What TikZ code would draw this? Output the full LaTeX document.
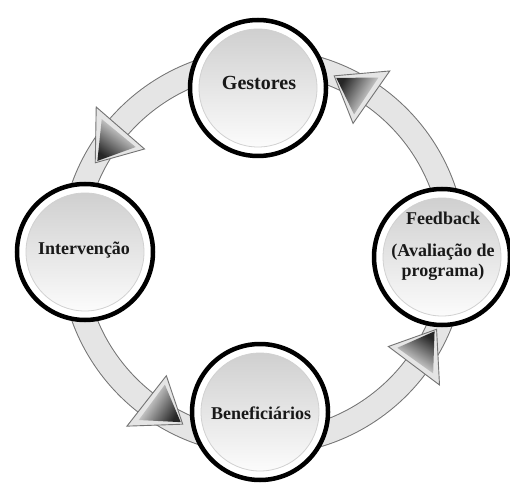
\documentclass[tikz,border=0pt]{standalone}
\usepackage{fontspec}
\setmainfont{Liberation Serif}
\begin{document}
\tikzset{
  ringline/.style={line width=25pt, draw=black!55},
  ringfill/.style={line width=23pt, draw=black!10},
  headouter/.style={fill=black!10, draw=black!55, line width=0.9pt, line join=miter},
  stage/.style={circle, draw=black, line width=4.5pt, fill=white, minimum size=136pt, inner sep=0pt,
    path picture={
      \shade[top color=black!20, bottom color=white] (path picture bounding box.center) circle (59pt);
      \draw[black!18, line width=0.8pt] (path picture bounding box.center) circle (59pt);
    }},
  lbl/.style={font=\fontsize{18}{20}\selectfont\bfseries, text=black!90, align=center}
}
\begin{tikzpicture}[x=1pt, y=1pt]
  \useasboundingbox (0,0) rectangle (510,482);
  \fill[white] (0,0) rectangle (510,482);
  % ring band
  \coordinate (C) at (263,230);
  \draw[ringline] (C) circle (191);
  \draw[ringfill] (C) circle (191);
  % arrowheads
  \begin{scope}[shift={(263,230)}]
    \foreach \t [evaluate=\t as \b using \t-13, evaluate=\t as \c using \t-11.5,
                 evaluate=\t as \d using \t-0.8, evaluate=\t as \s using \t-8] in {68,152,245,336} {
      \path[headouter] (\t:190) -- (\b:221) -- (\b:157) -- cycle;
      \path[top color=black!85, bottom color=white, shading angle=\s]
        (\d:189) -- (\c:209) -- (\c:165) -- cycle;
    }
  \end{scope}
  % stages
  \node[stage] (G) at (258,394) {};
  \node[stage] (I) at (85,230) {};
  \node[stage] (B) at (260,70) {};
  \node[stage] (F) at (442,225) {};
  \node[lbl, font=\fontsize{20}{22}\selectfont\bfseries] (Gt) at (259,399) {Gestores};
  \node[lbl] (It) at (84,232) {Intervenção};
  \node[lbl] (Bt) at (261,69) {Beneficiários};
  \node[lbl] (Ft) at (443,236) {Feedback\\[12pt](Avaliação de\\programa)};
\end{tikzpicture}
\end{document}
